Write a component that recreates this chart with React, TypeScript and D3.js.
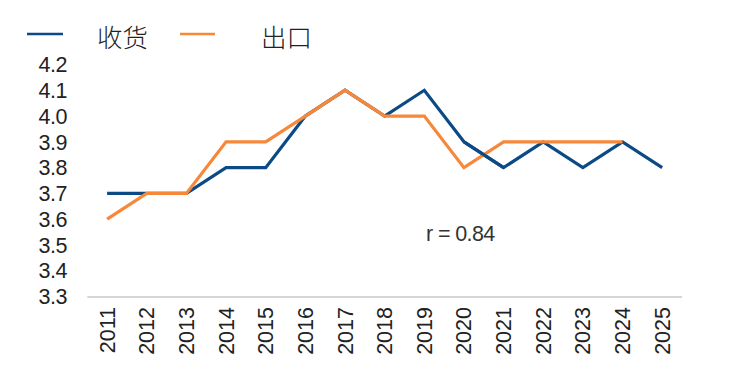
import React from "react";
import * as d3 from "d3";

const years = ["2011","2012","2013","2014","2015","2016","2017","2018","2019","2020","2021","2022","2023","2024","2025"];
const receipts = [3.7,3.7,3.7,3.8,3.8,4.0,4.1,4.0,4.1,3.9,3.8,3.9,3.8,3.9,3.8];
const exportsS: (number|null)[] = [3.6,3.7,3.7,3.9,3.9,4.0,4.1,4.0,4.0,3.8,3.9,3.9,3.9,3.9,null];
const yTicks = [3.3,3.4,3.5,3.6,3.7,3.8,3.9,4.0,4.1,4.2];
const seriesNames = ["收货","出口"];
const annotation = "r = 0.84";

const W = 732, H = 376;
const left = 87.3, right = 682, top = 64.5, bottom = 296.5;
const BLUE = "#0c4a86", ORANGE = "#f7883a";

export default function App() {
  const x = d3.scaleBand<string>().domain(years).range([left, right]);
  const y = d3.scaleLinear().domain([3.3, 4.2]).range([bottom, top]);
  const cx = (yr: string) => (x(yr) as number) + x.bandwidth() / 2;
  const line = d3.line<{yr:string; v:number|null}>()
    .defined(d => d.v != null)
    .x(d => cx(d.yr)).y(d => y(d.v as number));
  const blueData = years.map((yr, i) => ({ yr, v: receipts[i] }));
  const orangeData = years.map((yr, i) => ({ yr, v: exportsS[i] }));
  const font = "'Liberation Sans', Arial, sans-serif";
  const cjk = "'Noto Sans CJK SC', sans-serif";
  return (
    <svg width={W} height={H} style={{ position: "absolute", left: 0, top: 0, background: "#fff" }}>
      <line x1={left} x2={right} y1={297} y2={297} stroke="#c8c8c8" strokeWidth={1.5} />
      {yTicks.map(t => (
        <text key={t} x={67} y={y(t)} dy="0.36em" textAnchor="end" fontFamily={font} fontSize={21.5} fill="#222" letterSpacing={-0.5}>{t.toFixed(1)}</text>
      ))}
      {years.map(yr => (
        <text key={yr} transform={`translate(${cx(yr) + 7.5},307) rotate(-90)`} textAnchor="end" fontFamily={font} fontSize={21.5} fill="#222">{yr}</text>
      ))}
      <path d={line(blueData) as string} fill="none" stroke={BLUE} strokeWidth={3.2} strokeLinejoin="miter" />
      <path d={line(orangeData) as string} fill="none" stroke={ORANGE} strokeWidth={3.2} strokeLinejoin="miter" />
      <path d={line(blueData.slice(9, 11)) as string} fill="none" stroke={BLUE} strokeWidth={3.2} />
      <text x={426} y={241} fontFamily={font} fontSize={21.5} fill="#333" letterSpacing={-0.6}>{annotation}</text>
      <line x1={27} x2={63} y1={34} y2={34} stroke={BLUE} strokeWidth={2.5} />
      <text x={97} y={46.5} fontFamily={cjk} fontSize={25.5} fontWeight={300} fill="#222">{seriesNames[0]}</text>
      <line x1={180} x2={215} y1={34} y2={34} stroke={ORANGE} strokeWidth={2.5} />
      <text x={261} y={46.5} fontFamily={cjk} fontSize={25.5} fontWeight={300} fill="#222">{seriesNames[1]}</text>
    </svg>
  );
}
